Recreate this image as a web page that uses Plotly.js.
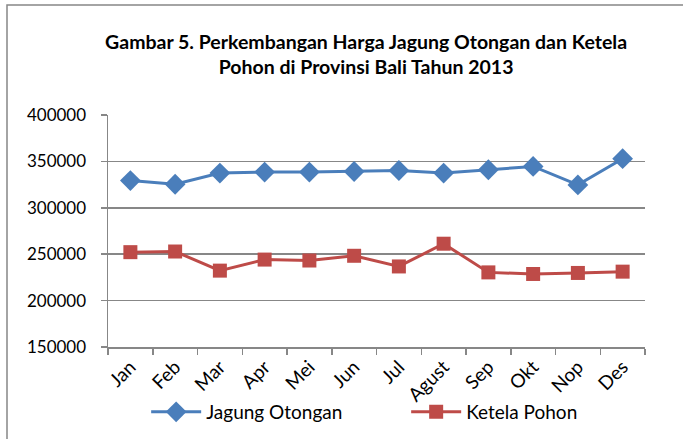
<!DOCTYPE html>
<html>
<head>
<meta charset="utf-8">
<script src="https://cdn.plot.ly/plotly-3.0.1.min.js"></script>
<style>
html,body{margin:0;padding:0;background:#fff;}
#chart{width:683px;height:439px;}
</style>
</head>
<body>
<div id="chart"></div>
<script>
const months = ["Jan","Feb","Mar","Apr","Mei","Jun","Jul","Agust","Sep","Okt","Nop","Des"];
const jagungOtongan = [329300,325400,337400,338500,338500,339100,340200,337400,341000,344600,324700,352900];
const ketelaPohon = [252200,252900,232300,244200,243200,248300,236800,261300,230400,228700,229800,231200];
const yTicks = [150000,200000,250000,300000,350000,400000];

const FONT = "Lato, 'Open Sans', 'Liberation Sans', sans-serif";

const traces = [
  {
    x: months, y: jagungOtongan, name: "Jagung Otongan",
    type: "scatter", mode: "lines+markers",
    line: {color: "#4A7EBB", width: 3},
    marker: {symbol: "diamond", size: 16, color: "#4A7EBB"}
  },
  {
    x: months, y: ketelaPohon, name: "Ketela Pohon",
    type: "scatter", mode: "lines+markers",
    line: {color: "#BE4B48", width: 3},
    marker: {symbol: "square", size: 14, color: "#BE4B48"}
  }
];

const layout = {
  width: 683, height: 439,
  margin: {l: 108, r: 38, t: 115, b: 92},
  paper_bgcolor: "#fff", plot_bgcolor: "#fff",
  font: {family: FONT, size: 19, color: "#000"},
  title: {
    text: "<b>Gambar 5. Perkembangan Harga Jagung Otongan dan Ketela<br>Pohon di Provinsi Bali Tahun 2013</b>",
    font: {family: FONT, size: 19.5, color: "#000"},
    xref: "container", x: 0.536, xanchor: "center",
    yref: "container", y: 1 - 49/439, yanchor: "middle"
  },
  xaxis: {
    type: "category",
    range: [-0.5, months.length - 0.5],
    autorange: false,
    showgrid: false,
    showline: true, linecolor: "#878787", linewidth: 1.5,
    ticks: "outside", ticklen: 6, tickcolor: "#878787", tickwidth: 1.5,
    tickson: "boundaries",
    tickangle: -45,
    tickfont: {family: FONT, size: 19, color: "#000"},
    fixedrange: true
  },
  yaxis: {
    range: [150000, 400000],
    autorange: false,
    tickvals: yTicks,
    ticktext: yTicks.map(String),
    showgrid: true, gridcolor: "#878787", gridwidth: 1.5,
    showline: true, linecolor: "#878787", linewidth: 1.5,
    ticks: "outside", ticklen: 6, tickcolor: "#878787", tickwidth: 1.5,
    ticklabelstandoff: 11,
    zeroline: false,
    tickfont: {family: FONT, size: 17, color: "#000"},
    fixedrange: true
  },
  showlegend: true,
  legend: {
    orientation: "h",
    xref: "container", yref: "container",
    x: 0.214, xanchor: "left",
    y: 1 - 412/439, yanchor: "middle",
    font: {family: FONT, size: 19, color: "#000"},
    itemwidth: 50,
    entrywidth: 195,
    entrywidthmode: "pixels",
    bgcolor: "rgba(0,0,0,0)"
  },
  shapes: [
    {
      type: "rect", xref: "paper", yref: "paper",
      x0: (7 - 108) / 537, x1: (720 - 108) / 537,
      y0: (347 - 460) / 232, y1: (347 - 5) / 232,
      line: {color: "#878787", width: 1.5},
      fillcolor: "rgba(0,0,0,0)", layer: "below"
    }
  ]
};

Plotly.newPlot("chart", traces, layout, {displayModeBar: false, staticPlot: true});
</script>
</body>
</html>
